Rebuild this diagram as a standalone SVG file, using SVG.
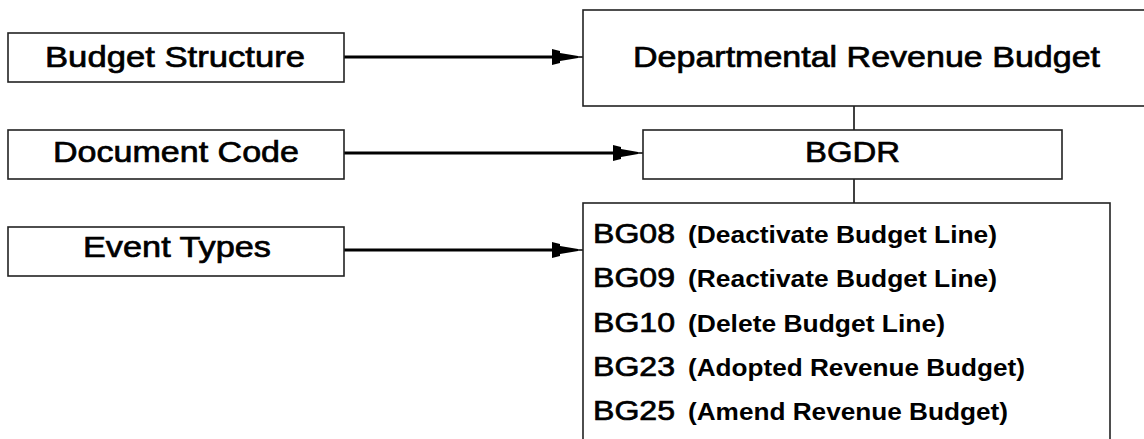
<svg xmlns="http://www.w3.org/2000/svg" width="1144" height="439" viewBox="0 0 1144 439">
<style>
.box{fill:#fff;stroke:#222;stroke-width:1.6}
.t{font-family:"Liberation Sans",Arial,sans-serif;font-size:30px;fill:#000;stroke:#000;stroke-width:0.7}
.code{font-family:"Liberation Sans",Arial,sans-serif;font-size:28px;fill:#000;stroke:#000;stroke-width:0.7}
.desc{font-family:"Liberation Sans",Arial,sans-serif;font-size:23px;font-weight:bold;fill:#000}
.arr{stroke:#000;stroke-width:3.2;fill:none}
.thin{stroke:#000;stroke-width:1.5;fill:none}
.head{fill:#000}
</style>
<rect width="1144" height="439" fill="#fff"/>
<g id="connectors">
<path class="arr" d="M344,57 H552"/>
<path class="head" d="M552,49 L560,51 L560,53 L578,56 L578,58 L560,61 L560,63 L552,65 Z"/>
<path class="thin" d="M578,57 H583"/>
<path class="arr" d="M344,153 H613"/>
<path class="head" d="M613,145 L621,147 L621,149 L638,152 L638,154 L621,157 L621,159 L613,161 Z"/>
<path class="thin" d="M638,153 H643"/>
<path class="arr" d="M344,250 H552"/>
<path class="head" d="M552,242 L560,244 L560,246 L578,249 L578,251 L560,254 L560,256 L552,258 Z"/>
<path class="thin" d="M578,250 H583"/>
<path class="thin" d="M854,106 V130"/>
<path class="thin" d="M854,179 V203"/>
</g>
<g id="budget-structure">
<rect class="box" x="8" y="33" width="336" height="49"/>
<text class="t" x="45" y="67" textLength="260" lengthAdjust="spacingAndGlyphs">Budget Structure</text>
</g>
<g id="document-code">
<rect class="box" x="8" y="130" width="336" height="49"/>
<text class="t" x="53" y="162" textLength="246" lengthAdjust="spacingAndGlyphs">Document Code</text>
</g>
<g id="event-types">
<rect class="box" x="8" y="227" width="336" height="49"/>
<text class="t" x="83" y="257" textLength="188" lengthAdjust="spacingAndGlyphs">Event Types</text>
</g>
<g id="departmental-revenue-budget">
<rect class="box" x="583" y="10" width="570" height="96"/>
<text class="t" x="633" y="67" textLength="467" lengthAdjust="spacingAndGlyphs">Departmental Revenue Budget</text>
</g>
<g id="bgdr">
<rect class="box" x="643" y="130" width="419" height="49"/>
<text class="t" x="805" y="162" textLength="95" lengthAdjust="spacingAndGlyphs">BGDR</text>
</g>
<g id="event-list">
<rect class="box" x="583" y="203" width="527" height="250"/>
<text class="code" x="593" y="243" textLength="82" lengthAdjust="spacingAndGlyphs">BG08</text>
<text class="desc" x="688" y="243" textLength="309" lengthAdjust="spacingAndGlyphs">(Deactivate Budget Line)</text>
<text class="code" x="593" y="287" textLength="82" lengthAdjust="spacingAndGlyphs">BG09</text>
<text class="desc" x="688" y="287" textLength="309" lengthAdjust="spacingAndGlyphs">(Reactivate Budget Line)</text>
<text class="code" x="593" y="332" textLength="82" lengthAdjust="spacingAndGlyphs">BG10</text>
<text class="desc" x="688" y="332" textLength="257" lengthAdjust="spacingAndGlyphs">(Delete Budget Line)</text>
<text class="code" x="593" y="376" textLength="82" lengthAdjust="spacingAndGlyphs">BG23</text>
<text class="desc" x="688" y="376" textLength="337" lengthAdjust="spacingAndGlyphs">(Adopted Revenue Budget)</text>
<text class="code" x="593" y="420" textLength="82" lengthAdjust="spacingAndGlyphs">BG25</text>
<text class="desc" x="688" y="420" textLength="320" lengthAdjust="spacingAndGlyphs">(Amend Revenue Budget)</text>
</g>
</svg>
